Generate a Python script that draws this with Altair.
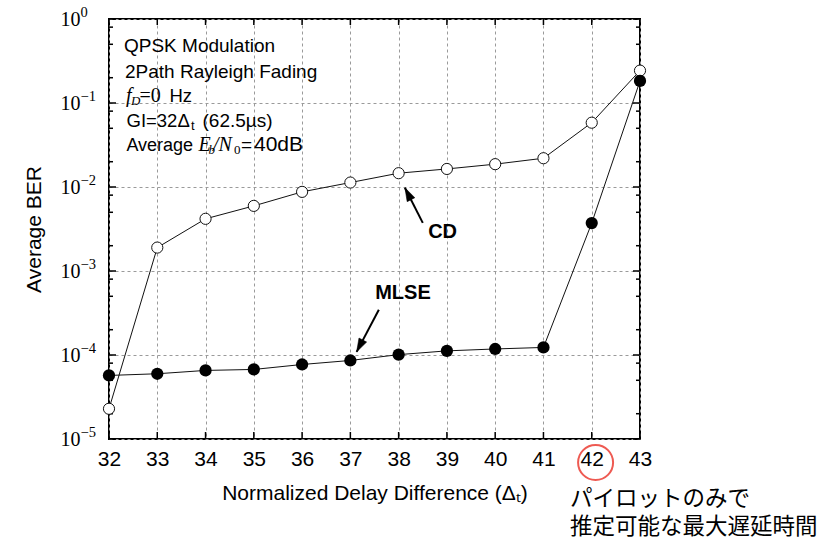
import altair as alt
import pandas as pd

# ---------------- data ----------------
delays = [32, 33, 34, 35, 36, 37, 38, 39, 40, 41, 42, 43]
ber_cd = [2.29e-5, 1.90e-3, 4.18e-3, 5.96e-3, 8.75e-3, 1.13e-2,
          1.46e-2, 1.64e-2, 1.87e-2, 2.20e-2, 5.83e-2, 0.243]
ber_mlse = [5.71e-5, 5.98e-5, 6.55e-5, 6.73e-5, 7.71e-5, 8.61e-5,
            1.01e-4, 1.12e-4, 1.18e-4, 1.23e-4, 3.72e-3, 0.183]

decades = [1, 1e-1, 1e-2, 1e-3, 1e-4, 1e-5]
decade_exps = ["\u00a00", "\u22121", "\u22122", "\u22123", "\u22124", "\u22125"]
minor_ticks = [2e-5, 5e-5, 8e-5, 2e-4, 5e-4, 8e-4, 2e-3, 5e-3, 8e-3,
               2e-2, 5e-2, 8e-2, 0.2, 0.5, 0.8]

# annotation arrows: tail (x, y) -> tip (x2, y2), in data units
arrow_cd = {"x": [38.50], "y": [3.74e-3], "x2": [38.13], "y2": [9.78e-3]}
arrow_mlse = {"x": [37.59], "y": [3.45e-4], "x2": [37.13], "y2": [1.09e-4]}
label_cd = {"x": [38.91], "y": [2.92e-3], "t": ["CD"]}
label_mlse = {"x": [38.09], "y": [5.5e-4], "t": ["MLSE"]}

info_lines = ["QPSK Modulation", "2Path Rayleigh Fading"]
jp_lines = ["パイロットのみで", "推定可能な最大遅延時間"]
x_title = "Normalized Delay Difference (\u0394\u209c)"
y_title = "Average BER"

W, H = 531, 420
SANS = "Liberation Sans"
SERIF = "Liberation Serif"
FS = 19

# ---------------- encodings ----------------
x_axis = alt.Axis(values=delays, format="d", title=x_title, grid=True,
                  gridDash=[3, 3], gridColor="#9a9a9a", gridWidth=1,
                  ticks=False, domain=False, labelFont=SANS, labelFontSize=21,
                  labelColor="black", labelPadding=9, labelFlush=False,
                  labelOverlap=False, titleFont=SANS, titleFontSize=21,
                  titleFontWeight="normal", titleColor="black", titlePadding=13)
y_axis = alt.Axis(values=decades, labelExpr="'10'", title=y_title, grid=True,
                  gridDash=[3, 3], gridColor="#9a9a9a", gridWidth=1,
                  ticks=False, domain=False, labelFont=SERIF, labelFontSize=20,
                  labelColor="black", labelPadding=29, labelOverlap=False,
                  titleFont=SANS, titleFontSize=21, titleFontWeight="normal",
                  titleColor="black", titlePadding=16)

xs = alt.Scale(domain=[32, 43], nice=False, zero=False)
ys = alt.Scale(type="log", domain=[1e-5, 1], nice=False)


def X(f="x"):
    return alt.X(f"{f}:Q", scale=xs, axis=x_axis)


def Y(f="y"):
    return alt.Y(f"{f}:Q", scale=ys, axis=y_axis)


df_cd = pd.DataFrame({"x": delays, "y": ber_cd})
df_ml = pd.DataFrame({"x": delays, "y": ber_mlse})
df_dec = pd.DataFrame({"y": decades, "e": decade_exps})
df_minor = pd.DataFrame({"y": minor_ticks})
df_xt = pd.DataFrame({"x": delays})

layers = []

# inward ticks
tick_style = dict(color="black", strokeWidth=1.5)
layers.append(alt.Chart(df_xt).mark_rule(**tick_style).encode(
    x=X(), y=alt.value(H), y2=alt.value(H - 7)))
layers.append(alt.Chart(df_xt).mark_rule(**tick_style).encode(
    x=X(), y=alt.value(0), y2=alt.value(6)))
layers.append(alt.Chart(df_dec).mark_rule(**tick_style).encode(
    y=Y(), x=alt.value(0), x2=alt.value(7)))
layers.append(alt.Chart(df_dec).mark_rule(**tick_style).encode(
    y=Y(), x=alt.value(W), x2=alt.value(W - 7)))
layers.append(alt.Chart(df_minor).mark_rule(**tick_style).encode(
    y=Y(), x=alt.value(0), x2=alt.value(4)))
layers.append(alt.Chart(df_minor).mark_rule(**tick_style).encode(
    y=Y(), x=alt.value(W), x2=alt.value(W - 4)))

# exponent part of y tick labels
layers.append(alt.Chart(df_dec).mark_text(
    align="left", baseline="middle", dy=-6, font=SERIF, fontSize=14.5,
    color="black").encode(y=Y(), x=alt.value(-28.5), text="e:N"))

# data lines and markers
layers.append(alt.Chart(df_cd).mark_line(color="#111", strokeWidth=1).encode(x=X(), y=Y()))
layers.append(alt.Chart(df_ml).mark_line(color="#111", strokeWidth=1).encode(x=X(), y=Y()))
layers.append(alt.Chart(df_cd).mark_point(
    shape="circle", filled=True, fill="white", stroke="#111", strokeWidth=1,
    size=125, opacity=1).encode(x=X(), y=Y()))
layers.append(alt.Chart(df_ml).mark_circle(
    color="black", size=150, opacity=1).encode(x=X(), y=Y()))

# arrows
head = "M0,0L0.42,1.3L-0.42,1.3Z"
for arr, ang in ((arrow_cd, 332.8), (arrow_mlse, 207.6)):
    d = pd.DataFrame(arr)
    layers.append(alt.Chart(d).mark_rule(color="black", strokeWidth=2).encode(
        x=X(), y=Y(), x2="x2:Q", y2="y2:Q"))
    layers.append(alt.Chart(d).mark_point(
        shape=head, filled=True, fill="black", stroke="black", strokeWidth=0.5,
        size=420, angle=ang, opacity=1).encode(x=X("x2"), y=Y("y2")))

for lab in (label_cd, label_mlse):
    layers.append(alt.Chart(pd.DataFrame(lab)).mark_text(
        align="center", baseline="middle", font=SANS, fontSize=20,
        fontWeight="bold", color="black").encode(x=X(), y=Y(), text="t:N"))


def txt(s, x, y, size, font=SANS, style="normal", weight="normal",
        baseline="alphabetic", align="left", color="black"):
    return alt.Chart(pd.DataFrame({"t": [s]})).mark_text(
        align=align, baseline=baseline, font=font, fontSize=size,
        fontStyle=style, fontWeight=weight, color=color).encode(
        text="t:N", x=alt.value(x), y=alt.value(y))


# info box
layers.append(txt(info_lines[0], 15, 33, FS))
layers.append(txt(info_lines[1], 16, 59, FS))
layers.append(txt("f", 17, 83, 20, font=SERIF, style="italic"))
layers.append(txt("D", 22, 86, 13, font=SERIF, style="italic"))
layers.append(txt("=0", 30.5, 83, 20, font=SERIF))
layers.append(txt("Hz", 60.5, 83, 18.5))
layers.append(txt("GI=32\u0394", 17.5, 108, 18.5))
layers.append(txt("t", 82, 111, 13))
layers.append(txt("(62.5\u00b5s)", 93.5, 108, FS))
layers.append(txt("Average", 17.4, 132, 18))
layers.append(txt("E", 89.5, 132, 20, font=SERIF, style="italic"))
layers.append(txt("b", 99.5, 135, 13, font=SERIF, style="italic"))
layers.append(txt("/N", 104, 132, 20, font=SERIF, style="italic"))
layers.append(txt("0", 125, 135, 13, font=SERIF))
layers.append(txt("=", 132, 132, FS))
layers.append(txt("40dB", 145, 132, 21))

# Japanese note and highlight circle
layers.append(txt(jp_lines[0], 461, 480, 22.5, font="Noto Sans CJK JP",
                  baseline="middle"))
layers.append(txt(jp_lines[1], 461, 508, 22.5, font="Noto Sans CJK JP",
                  baseline="middle"))
layers.append(alt.Chart(pd.DataFrame({"x": [42.08]})).mark_point(
    shape="circle", filled=False, stroke="#ee5a52", strokeWidth=2,
    size=1225, opacity=1).encode(x=X(), y=alt.value(443.5)))

chart = alt.layer(*layers).properties(
    width=W, height=H,
    padding={"left": 109, "top": 19, "right": 838 - 109 - W, "bottom": 539 - 19 - H},
    autosize=alt.AutoSizeParams(type="none"),
    background="white",
).configure_view(stroke="black", strokeWidth=2)

chart.save("out.html", embed_options={"renderer": "svg", "actions": False})
